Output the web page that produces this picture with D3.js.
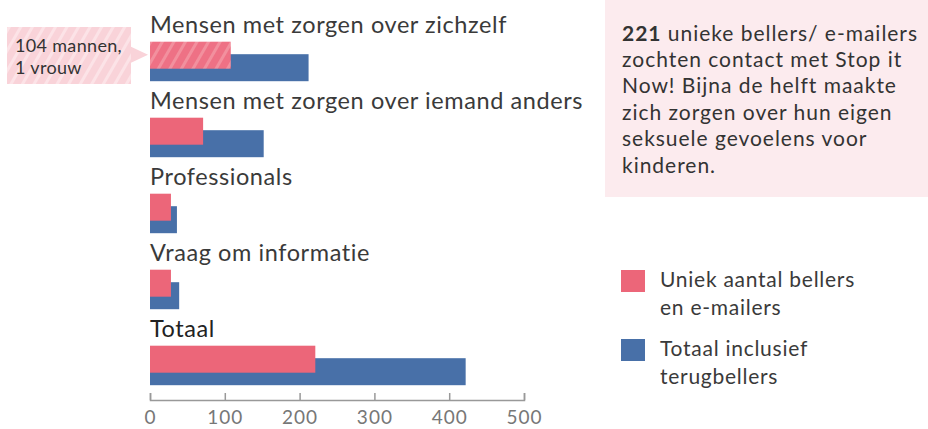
<!DOCTYPE html>
<html><head><meta charset="utf-8">
<script src="https://cdn.jsdelivr.net/npm/d3@7"></script>
<style>body{margin:0;background:#fff}svg{display:block}text{font-family:Lato,"Noto Sans",sans-serif}</style>
</head><body>
<svg id="c" width="928" height="429"></svg>
<script>
const categories = ["Mensen met zorgen over zichzelf","Mensen met zorgen over iemand anders","Professionals","Vraag om informatie","Totaal"];
const uniqueValues = [108, 71, 28, 28, 221];
const totalValues = [212, 152, 36, 39, 422];
const xTicks = [0, 100, 200, 300, 400, 500];
const legendLabels = [["Uniek aantal bellers","en e-mailers"],["Totaal inclusief","terugbellers"]];
const infoLines = ["unieke bellers/ e-mailers","zochten contact met Stop it","Now! Bijna de helft maakte","zich zorgen over hun eigen","seksuele gevoelens voor","kinderen."];
const annotationLines = ["104 mannen,","1 vrouw"];

const PINK = "#EC6679", BLUE = "#4870A8";
const svg = d3.select("#c");
const defs = svg.append("defs");
function stripes(id, bg, fg, w){
  const p = defs.append("pattern").attr("id", id).attr("patternUnits","userSpaceOnUse")
    .attr("width", 10).attr("height", 10).attr("patternTransform","rotate(30)");
  p.append("rect").attr("width",10).attr("height",10).attr("fill",bg);
  p.append("rect").attr("width",w).attr("height",10).attr("fill",fg);
}
stripes("hBar", "#EE7185", "#F2909E", 3);
stripes("hBox", "#F9D3D9", "#FCE3E7", 3);

// widen letter spacing of a group so that its reference line gets the reference width
function fit(sel, refNode, target){
  const len = refNode.getComputedTextLength();
  const n = refNode.textContent.length;
  const ls = Math.max(0, (target - len) / n);
  sel.style("letter-spacing", ls + "px");
}

const x = d3.scaleLinear().domain([0, 500]).range([150, 524]);
const y = d3.scaleBand().domain(categories).range([41.7, 41.7 + 76 * categories.length]);

// info box
svg.append("rect").attr("x",605).attr("y",0).attr("width",323).attr("height",197).attr("fill","#FCEBEE");
const info = svg.append("text").attr("x",622).attr("fill","#333").style("font-size","21px");
infoLines.forEach((l,i)=>{
  const t = info.append("tspan").attr("x",622).attr("y",40.5 + i*26.4);
  if(i===0){ t.append("tspan").attr("font-weight","bold").text("221"); t.append("tspan").text(" " + l); }
  else t.text(l);
});
{
  const first = info.select("tspan").node();
  const len = first.getComputedTextLength();
  const n = first.textContent.length;
  info.style("letter-spacing", Math.max(0,(296 - len)/n) + "px");
}

// axis
const axis = svg.append("g").attr("transform","translate(0,400)")
  .call(d3.axisBottom(x).tickValues(xTicks).tickSize(-7).tickPadding(11).tickFormat(d3.format("d")));
axis.select(".domain").attr("stroke","#999").attr("stroke-width",1.5);
axis.selectAll(".tick line").attr("stroke","#999").attr("stroke-width",1.5);
axis.selectAll(".tick text").attr("fill","#777").style("font-size","19px")
  .style("letter-spacing","1px").style("font-family","Lato,'Noto Sans',sans-serif");

// groups
const labels = [];
categories.forEach((c,i)=>{
  labels.push(svg.append("text").attr("x",150).attr("y",y(c)-8.5)
    .attr("fill", i===4 ? "#222" : "#3a3a3a").style("font-size","23.5px").text(c).node());
  svg.append("rect").attr("x",x(0)).attr("y",y(c)+12.5).attr("width",x(totalValues[i])-x(0)).attr("height",27).attr("fill",BLUE);
  svg.append("rect").attr("x",x(0)).attr("y",y(c)).attr("width",x(uniqueValues[i])-x(0)).attr("height",27)
    .attr("fill", i===0 ? "url(#hBar)" : PINK);
});
fit(d3.selectAll(labels), labels[0], 357);

// annotation
const ay = y(categories[0]);
svg.append("path").attr("d",`M131,${ay+5}L148,${ay+13}L131,${ay+21}Z`).attr("fill","#F9D3D9");
svg.append("rect").attr("x",7).attr("y",27).attr("width",124).attr("height",57).attr("fill","url(#hBox)");
const ann = annotationLines.map((l,i)=>
  svg.append("text").attr("x",15).attr("y",52 + i*22).attr("fill","#333").style("font-size","18px").text(l).node());
fit(d3.selectAll(ann), ann[0], 107);

// legend
const leg = [];
[PINK, BLUE].forEach((col,i)=>{
  const ly = 270 + i*69;
  svg.append("rect").attr("x",621).attr("y",ly).attr("width",24).attr("height",22).attr("fill",col);
  legendLabels[i].forEach((l,j)=>{
    leg.push(svg.append("text").attr("x",660).attr("y",ly+17+j*27.5).attr("fill","#3a3a3a").style("font-size","21px").text(l).node());
  });
});
fit(d3.selectAll(leg), leg[0], 195);
</script>
</body></html>
